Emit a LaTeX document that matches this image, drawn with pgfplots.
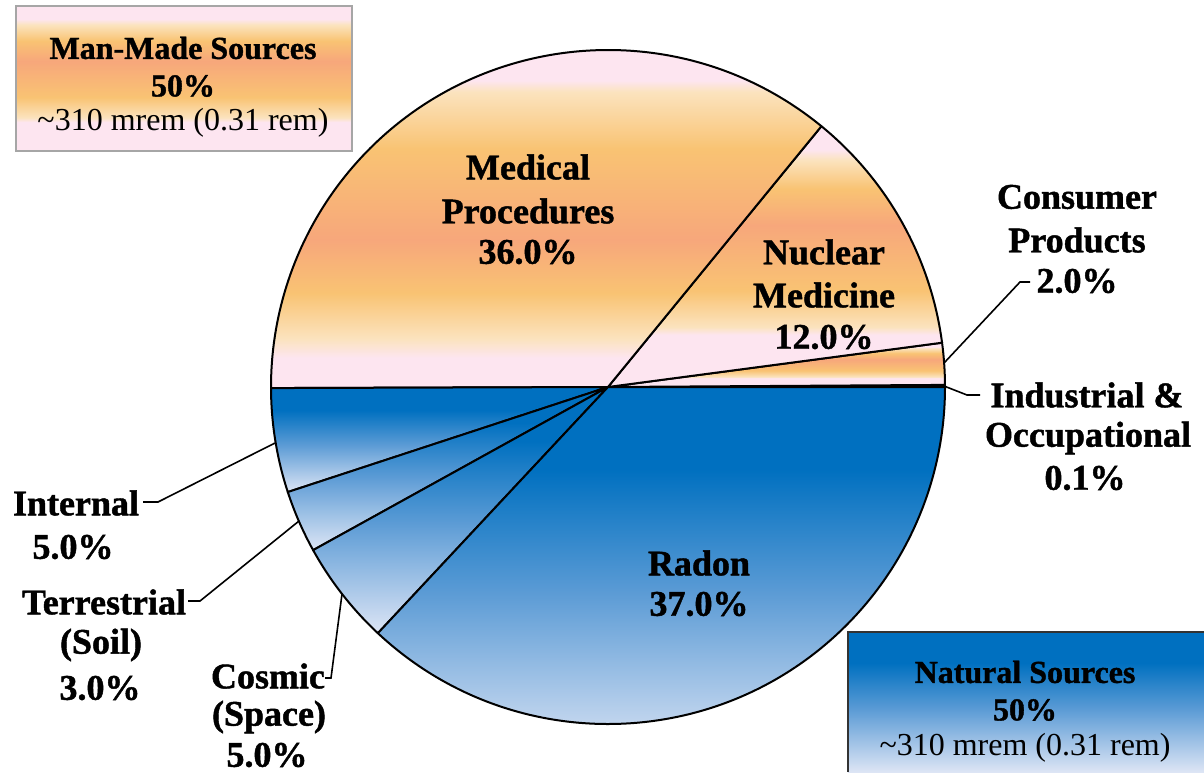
\documentclass[border=0pt]{standalone}
\usepackage{pgfplots}
\pgfplotsset{compat=1.18}
\usepackage{pgfplotstable}
\usepackage{fontspec}
\setmainfont[BoldFeatures={FakeBold=1.2}]{Liberation Serif}

\definecolor{pk}{HTML}{FDE5F0}
\definecolor{cr}{HTML}{FBE3BE}
\definecolor{og}{HTML}{F9C373}
\definecolor{sa}{HTML}{F7A77B}
\definecolor{lb}{HTML}{DDE5F5}
\definecolor{mb}{HTML}{5B9BD5}
\definecolor{db}{HTML}{0070C0}

\pgfdeclareverticalshading{manmade}{100bp}{color(0bp)=(pk); color(35bp)=(pk); color(36.5bp)=(cr); color(43.5bp)=(og); color(56bp)=(sa); color(63bp)=(og); color(68.5bp)=(cr); color(70.5bp)=(pk); color(100bp)=(pk)}
\pgfdeclareverticalshading{manmadeflip}{100bp}{color(0bp)=(pk); color(29bp)=(pk); color(31.5bp)=(cr); color(37.5bp)=(og); color(44.5bp)=(sa); color(56.5bp)=(og); color(64bp)=(cr); color(65.5bp)=(pk); color(100bp)=(pk)}
\pgfdeclareverticalshading{natural}{100bp}{color(0bp)=(lb); color(25bp)=(lb); color(47.5bp)=(mb); color(64bp)=(db); color(100bp)=(db)}

\pgfplotstableread{
name value shade
Industrial 0.1 manmade
Consumer 2.0 manmade
Nuclear 12.0 manmade
Medical 36.0 manmadeflip
Internal 5.0 natural
Terrestrial 3.0 natural
Cosmic 5.0 natural
Radon 37.0 natural
}\piedata

\newcommand\lab{\bfseries\fontsize{18}{21}\selectfont}
\newcommand\boxb{\bfseries\fontsize{16}{18}\selectfont}
\newcommand\boxr{\fontsize{16}{18}\selectfont}

\begin{document}
\begin{tikzpicture}
\useasboundingbox (0,0) rectangle (602pt,386pt);
\xdef\pietotal{0}
\foreach \i in {0,...,7}{%
  \pgfplotstablegetelem{\i}{value}\of\piedata
  \pgfmathsetmacro\tmpsum{\pietotal+\pgfplotsretval}%
  \xdef\pietotal{\tmpsum}}
\begin{axis}[
  at={(0,0)}, anchor=south west,
  scale only axis, width=602pt, height=386pt,
  xmin=0, xmax=1204, ymin=0, ymax=772,
  y dir=reverse, hide axis, clip=false,
  every node/.append style={inner sep=0pt, anchor=base},
]
\xdef\cum{0}
\foreach \i in {0,...,7}{%
  \pgfplotstablegetelem{\i}{value}\of\piedata
  \let\sliceval\pgfplotsretval
  \pgfplotstablegetelem{\i}{shade}\of\piedata
  \let\sliceshade\pgfplotsretval
  \pgfmathsetmacro\angA{\cum/\pietotal*360}%
  \pgfmathsetmacro\angB{(\cum+\sliceval)/\pietotal*360}%
  \edef\tmp{\noexpand\path[shade, shading=\sliceshade, draw=black, line width=1pt, line join=round]
    (axis cs:608,387) -- ++(\angA:168.5pt) arc[start angle=\angA, end angle=\angB, radius=168.5pt] -- cycle;}%
  \tmp
  \pgfmathsetmacro\newcum{\cum+\sliceval}%
  \xdef\cum{\newcum}%
}

% legend-like boxes
\path[shade, shading=manmade, draw=gray!70, line width=0.6pt] (axis cs:16,6) rectangle (axis cs:352,151);
\path[shade, shading=natural] (axis cs:848,632) rectangle (axis cs:1204,772);
\draw[black!80, line width=0.6pt] (axis cs:848,772) -- (axis cs:848,632) -- (axis cs:1204,632);

\node[font=\boxb] at (axis cs:183,48) {Man-Made Sources};
\node[font=\boxb] at (axis cs:183,86) {50\%};
\node[font=\boxr] at (axis cs:183,123) {\textasciitilde310 mrem (0.31 rem)};
\node[font=\boxb] at (axis cs:1025,672) {Natural Sources};
\node[font=\boxb] at (axis cs:1025,710) {50\%};
\node[font=\boxr] at (axis cs:1025,748) {\textasciitilde310 mrem (0.31 rem)};

% leader lines
\draw[line width=0.8pt] (axis cs:143,502) -- (axis cs:158,502) -- (axis cs:275,443);
\draw[line width=0.8pt] (axis cs:188,601) -- (axis cs:200,601) -- (axis cs:299,521);
\draw[line width=0.8pt] (axis cs:325,678) -- (axis cs:331,678) -- (axis cs:342,594);
\draw[line width=0.8pt] (axis cs:944,363) -- (axis cs:1020,282) -- (axis cs:1030,282);
\draw[line width=0.8pt] (axis cs:944,386) -- (axis cs:967,395) -- (axis cs:980,395);

% labels
\node[font=\lab] at (axis cs:528,167) {Medical};
\node[font=\lab] at (axis cs:528,211) {Procedures};
\node[font=\lab] at (axis cs:528,252) {36.0\%};
\node[font=\lab] at (axis cs:824,252) {Nuclear};
\node[font=\lab] at (axis cs:824,295) {Medicine};
\node[font=\lab] at (axis cs:824,337) {12.0\%};
\node[font=\lab] at (axis cs:1077,197) {Consumer};
\node[font=\lab] at (axis cs:1077,240) {Products};
\node[font=\lab] at (axis cs:1077,281) {2.0\%};
\node[font=\lab] at (axis cs:1087,395) {Industrial \&};
\node[font=\lab] at (axis cs:1088,438) {Occupational};
\node[font=\lab] at (axis cs:1085,478) {0.1\%};
\node[font=\lab] at (axis cs:699,563) {Radon};
\node[font=\lab] at (axis cs:699,604) {37.0\%};
\node[font=\lab] at (axis cs:76,503) {Internal};
\node[font=\lab] at (axis cs:73,547) {5.0\%};
\node[font=\lab] at (axis cs:104,602) {Terrestrial};
\node[font=\lab] at (axis cs:101,645) {(Soil)};
\node[font=\lab] at (axis cs:100,688) {3.0\%};
\node[font=\lab] at (axis cs:268,676) {Cosmic};
\node[font=\lab] at (axis cs:269,717) {(Space)};
\node[font=\lab] at (axis cs:267,755) {5.0\%};
\end{axis}
\end{tikzpicture}
\end{document}
